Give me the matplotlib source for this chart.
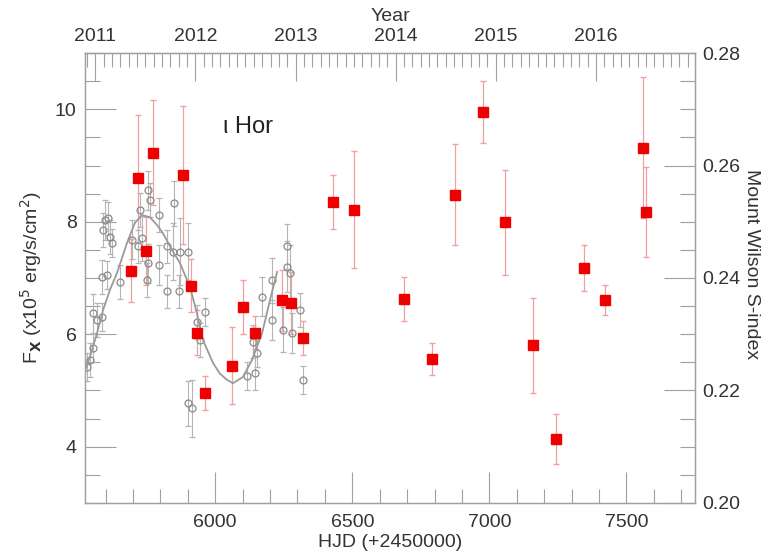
import matplotlib.pyplot as plt
import numpy as np
from matplotlib.ticker import MultipleLocator, FormatStrFormatter

plt.rcParams['font.family'] = ['Liberation Sans', 'DejaVu Sans']

# X-ray flux (HJD - 2450000, flux in 1e5 erg/s/cm2, error)
xray_hjd = [5692, 5717, 5749, 5772, 5881, 5910, 5932, 5962, 6061, 6101,
            6146, 6243, 6275, 6321, 6428, 6507, 6688, 6792, 6875, 6978,
            7056, 7160, 7243, 7345, 7422, 7561, 7573]
xray_flux = [7.13, 8.77, 7.48, 9.23, 8.83, 6.86, 6.03, 4.96, 5.44, 6.48,
             6.03, 6.60, 6.56, 5.93, 8.36, 8.21, 6.62, 5.56, 8.48, 9.95,
             7.99, 5.80, 4.14, 7.17, 6.61, 9.32, 8.18]
xray_err = [0.56, 1.13, 0.60, 0.93, 1.22, 0.47, 0.40, 0.30, 0.68, 0.48,
            0.30, 0.55, 0.55, 0.30, 0.48, 1.04, 0.39, 0.28, 0.90, 0.55,
            0.93, 0.84, 0.45, 0.41, 0.26, 1.26, 0.80]

# Mount Wilson S-index measurements
s_hjd = [5531, 5543, 5555, 5553, 5568, 5586, 5586, 5604, 5592, 5598,
         5610, 5616, 5622, 5653, 5695, 5719, 5726, 5756, 5762, 5732,
         5756, 5750, 5796, 5796, 5825, 5825, 5851, 5845, 5871, 5902,
         5869, 5902, 5914, 5932, 5944, 5963, 6115, 6145, 6151, 6137,
         6169, 6206, 6206, 6248, 6263, 6261, 6273, 6279, 6309, 6319]
s_index = [0.2242, 0.2254, 0.2275, 0.2337, 0.2325, 0.2331, 0.2402, 0.2405, 0.2485, 0.2503,
           0.2506, 0.2473, 0.2462, 0.2393, 0.2468, 0.2456, 0.2521, 0.2556, 0.2539, 0.2471,
           0.2426, 0.2396, 0.2512, 0.2423, 0.2376, 0.2456, 0.2533, 0.2447, 0.2447, 0.2447,
           0.2376, 0.2177, 0.2168, 0.2322, 0.2290, 0.2340, 0.2225, 0.2231, 0.2266, 0.2287,
           0.2367, 0.2396, 0.2325, 0.2308, 0.2456, 0.2420, 0.2408, 0.2302, 0.2343, 0.2219]
s_err = [0.0025, 0.0030, 0.0025, 0.0035, 0.0030, 0.0025, 0.0030, 0.0025, 0.0030, 0.0035,
         0.0030, 0.0030, 0.0025, 0.0030, 0.0035, 0.0030, 0.0030, 0.0035, 0.0030, 0.0040,
         0.0035, 0.0030, 0.0030, 0.0035, 0.0030, 0.0030, 0.0040, 0.0050, 0.0060, 0.0050,
         0.0030, 0.0040, 0.0050, 0.0030, 0.0030, 0.0025, 0.0025, 0.0030, 0.0025, 0.0030,
         0.0035, 0.0040, 0.0035, 0.0040, 0.0040, 0.0045, 0.0050, 0.0035, 0.0030, 0.0025]

# cycle fit to the S-index
fit_hjd = [5529, 5543, 5569, 5591, 5616, 5642, 5678, 5707, 5733, 5762,
           5788, 5809, 5842, 5871, 5908, 5933, 5955, 5992, 6017, 6043,
           6065, 6101, 6134, 6171, 6200, 6226]
fit_s = [0.2240, 0.2260, 0.2302, 0.2343, 0.2379, 0.2409, 0.2462, 0.2498, 0.2512, 0.2508,
         0.2494, 0.2480, 0.2450, 0.2427, 0.2384, 0.2338, 0.2290, 0.2249, 0.2230, 0.2219,
         0.2213, 0.2224, 0.2254, 0.2302, 0.2361, 0.2411]

year_ticks = [2011, 2012, 2013, 2014, 2015, 2016]

axis_grey = '#a0a0a0'
text_grey = '#333333'

fig = plt.figure(figsize=(7.67, 5.55), dpi=100)
ax = fig.add_axes([0.1108, 0.0937, 0.7953, 0.8108])
ax2 = ax.twinx()

ax.set_xlim(5525, 7750)
ax.set_ylim(3, 11)
ax2.set_ylim(0.20, 0.28)

# S-index points and fit (right axis)
ax2.errorbar(s_hjd, s_index, yerr=s_err, fmt='o', ms=5, mfc='none', mec='#8a8a8a',
             mew=0.9, ecolor='#b5b5b5', elinewidth=0.8, capsize=2, zorder=2)
ax2.plot(fit_hjd, fit_s, color='#9a9a9a', lw=1.3, zorder=3)

# X-ray flux (left axis)
ax.errorbar(xray_hjd, xray_flux, yerr=xray_err, fmt='none', ecolor='#f0a0a0',
            elinewidth=0.9, capsize=2.5, zorder=1)
ax2.plot(xray_hjd, [0.20 + (f - 3) * 0.01 for f in xray_flux], 's', ms=7.5,
         color='#ee0000', mec='#ee0000', zorder=5)

ax.set_zorder(ax2.get_zorder() - 1)
ax.patch.set_visible(False)
ax2.patch.set_visible(False)

for a in (ax, ax2):
    for sp in a.spines.values():
        sp.set_color(axis_grey)
        sp.set_linewidth(0.9)

ax.xaxis.set_major_locator(MultipleLocator(500))
ax.xaxis.set_minor_locator(MultipleLocator(100))
ax.yaxis.set_major_locator(MultipleLocator(2))
ax.yaxis.set_minor_locator(MultipleLocator(0.5))
ax2.yaxis.set_major_locator(MultipleLocator(0.02))
ax2.yaxis.set_minor_locator(MultipleLocator(0.005))
ax2.yaxis.set_major_formatter(FormatStrFormatter('%.2f'))

ax.tick_params(axis='x', which='major', direction='in', length=22, width=0.8,
               color=axis_grey, labelsize=14, labelcolor=text_grey, pad=8, top=False)
ax.tick_params(axis='x', which='minor', direction='in', length=10, width=0.8,
               color=axis_grey, top=False)
ax.tick_params(axis='y', which='major', direction='in', length=22, width=0.8,
               color=axis_grey, labelsize=14, labelcolor=text_grey, pad=6)
ax.tick_params(axis='y', which='minor', direction='in', length=11, width=0.8,
               color=axis_grey)
ax2.tick_params(axis='y', which='major', direction='in', length=22, width=0.8,
                color=axis_grey, labelsize=14, labelcolor=text_grey, pad=5)
ax2.tick_params(axis='y', which='minor', direction='in', length=11, width=0.8,
                color=axis_grey)

ax.set_xticks([6000, 6500, 7000, 7500])

# calendar year axis on top
def hjd_to_year(h):
    return 2011 + (np.asarray(h) - 5562.5) / 365.25


def year_to_hjd(y):
    return 5562.5 + (np.asarray(y) - 2011) * 365.25


top = ax.secondary_xaxis('top', functions=(hjd_to_year, year_to_hjd))
top.set_xticks(year_ticks)
top.xaxis.set_minor_locator(MultipleLocator(1 / 12))
top.spines['top'].set_color(axis_grey)
top.tick_params(axis='x', which='major', direction='in', length=20, width=0.8,
                color=axis_grey, labelsize=14, labelcolor=text_grey, pad=6)
top.tick_params(axis='x', which='minor', direction='in', length=10, width=0.8,
                color=axis_grey)
top.set_xlabel('Year', fontsize=14, color=text_grey, labelpad=5)

ax.set_xlabel('HJD (+2450000)', fontsize=14, color=text_grey, labelpad=2)
ax.set_ylabel(r'F$_\mathbf{X}$ (x10$^5$ erg/s/cm$^2$)', fontsize=14, color=text_grey, labelpad=8)
ax2.set_ylabel('Mount Wilson S-index', fontsize=14, color=text_grey, rotation=270,
               va='center', ha='center')
ax2.yaxis.set_label_coords(1.093, 0.53)

ax.text(0.267, 0.835, 'ι Hor', transform=ax.transAxes, fontsize=17,
        color='#222222', ha='center', va='center')

fig.savefig('out.png', dpi=100)
